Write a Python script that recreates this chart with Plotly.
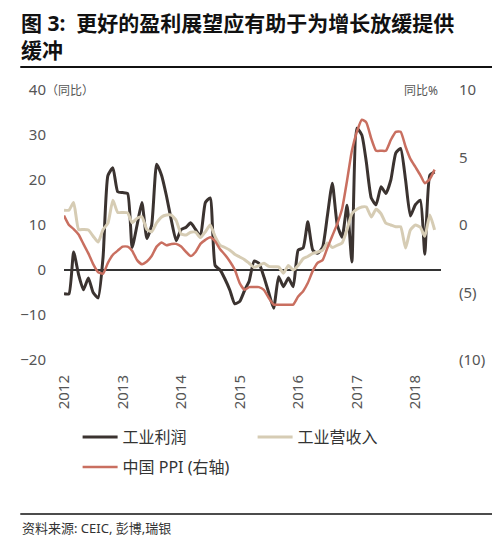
import plotly.graph_objects as go
import pandas as pd

# monthly, Jan 2012 - May 2018
months = pd.date_range("2012-01-01", periods=77, freq="MS")

profit = [-5.3, -5.3, 4, -1, -4.4, -1.8, -5, -6.2, 3, 21, 22.7, 17.4,
          17.2, 17, 5, 10, 15, 7, 10, 23.5, 21, 16.5, 11, 6.5,
          9, 9.5, 10.5, 9, 7.5, 15, 16, 1, 0, -2, -4.5, -7.5,
          -7, -4.5, -2.5, 2, 1.5, -1.5, -5, -8.5, -1.5, -3.7, -1.8, -3.7,
          4.4, 4.9, 10.7, 4.4, 3.7, 5, 12, 19.3, 10, 7.3, 14.4, 1.8,
          31.5, 30, 24, 16, 14.5, 18.5, 17, 20, 26, 27, 20, 12,
          14.5, 15.5, 3.5, 21, 21.8]

revenue = [13.3, 13.3, 15, 9, 9, 8.9, 7.5, 6.2, 9, 10.4, 15.5, 12.8,
           12.8, 12.7, 10.5, 11.5, 11.8, 9, 8.5, 10.5, 11.8, 12.2, 12.2, 11,
           8, 7.8, 8.4, 8.4, 7.2, 8.5, 10, 7.4, 5.5, 5, 4.4, 3.5,
           2.9, 2.3, 1.5, 0.6, 1, 1.5, 0.8, 0.7, 0.7, -0.7, 1, 0,
           1, 2.5, 3, 3.7, 4, 4.4, 6, 5, 5.5, 6, 9, 12.5,
           13.5, 14, 14, 11.8, 13.5, 12.5, 10.4, 10, 9.6, 9.6, 4.9, 8.9,
           10, 9.5, 7.5, 12.2, 8.9]

ppi = [0.7, 0.0, -0.3, -0.7, -1.4, -2.1, -2.9, -3.5, -3.6, -2.8, -2.2, -1.9,
       -1.6, -1.6, -1.9, -2.6, -2.9, -2.7, -2.3, -1.6, -1.3, -1.5, -1.4, -1.4,
       -1.6, -2.0, -2.3, -2.0, -1.4, -1.1, -0.9, -1.2, -1.8, -2.2, -2.7, -3.3,
       -4.3, -4.8, -4.6, -4.6, -4.6, -4.8, -5.4, -5.9, -5.9, -5.9, -5.9, -5.9,
       -5.3, -4.9, -4.3, -3.4, -2.8, -2.6, -1.7, -0.8, 0.1, 1.2, 3.3, 5.5,
       6.9, 7.8, 7.6, 6.4, 5.5, 5.5, 5.5, 6.3, 6.9, 6.9, 5.8, 4.9,
       4.3, 3.7, 3.1, 3.4, 4.1]

left_ticks = [-20, -10, 0, 10, 20, 30, 40]
right_ticks = [-10, -5, 0, 5, 10]
right_text = ["(10)", "(5)", "0", "5", "10"]
year_ticks = pd.date_range("2012-01-01", "2018-01-01", freq="YS")

FONT = "Noto Sans, Noto Sans CJK SC"
OFF = 8  # page body margin
W, H = 500 - OFF, 538 - OFF
L, R, T, B = 53 - OFF, 441 - OFF, 90 - OFF, 360 - OFF  # plot area in figure px


def px(x):
    # page x pixel -> paper
    return (x - OFF - L) / (R - L)


def py(y):
    return (B - (y - OFF)) / (B - T)


fig = go.Figure()
fig.add_scatter(x=months, y=profit, name="工业利润", mode="lines", legend="legend",
                line=dict(color="#3b3330", width=3, shape="spline", smoothing=0.5))
fig.add_scatter(x=months, y=revenue, name="工业营收入", mode="lines", legend="legend",
                line=dict(color="#d6ccb4", width=3, shape="spline", smoothing=0.5))
fig.add_scatter(x=months, y=ppi, name="中国 PPI (右轴)", mode="lines", yaxis="y2", legend="legend2",
                line=dict(color="#c96f60", width=2.5, shape="spline", smoothing=0.5))

leg = dict(orientation="h", xanchor="left", yanchor="middle",
           itemwidth=35, font=dict(size=16, color="#333"), bgcolor="rgba(0,0,0,0)")

fig.update_layout(
    width=W, height=H,
    margin=dict(l=L, r=W - R, t=T, b=H - B, pad=0),
    paper_bgcolor="white", plot_bgcolor="white",
    font=dict(family=FONT, size=15, color="#555"),
    xaxis=dict(type="date", range=["2012-01-01", "2018-06-10"],
               tickvals=year_ticks, tickformat="%Y", tickangle=-90,
               ticks="outside", ticklen=8, tickcolor="rgba(0,0,0,0)",
               showgrid=False, showline=False, zeroline=False,
               tickfont=dict(size=15, color="#555")),
    yaxis=dict(range=[-20, 40], tickvals=left_ticks, showgrid=False,
               zeroline=True, zerolinecolor="#333", zerolinewidth=1.5,
               ticks="outside", ticklen=14, tickcolor="rgba(0,0,0,0)",
               showline=False, tickfont=dict(size=15, color="#555")),
    yaxis2=dict(range=[-10, 10], tickvals=right_ticks, ticktext=right_text,
                overlaying="y", side="right", showgrid=False, zeroline=False,
                ticks="outside", ticklen=14, tickcolor="rgba(0,0,0,0)",
                showline=False, tickfont=dict(size=15, color="#555")),
    legend=dict(leg, x=px(67), y=py(437), entrywidth=125, entrywidthmode="pixels"),
    legend2=dict(leg, x=px(67), y=py(467)),
    showlegend=True,
)

fig.add_annotation(x=px(OFF), y=py(OFF), xref="paper", yref="paper", xanchor="left", yanchor="top",
                   text="<b>图 3:  更好的盈利展望应有助于为增长放缓提供</b>", showarrow=False,
                   borderpad=0, font=dict(size=21, color="#111", family=FONT))
fig.add_annotation(x=px(OFF), y=py(35), xref="paper", yref="paper", xanchor="left", yanchor="top",
                   text="<b>缓冲</b>", showarrow=False,
                   borderpad=0, font=dict(size=21, color="#111", family=FONT))
fig.add_annotation(x=px(32), y=py(90), xref="paper", yref="paper", xanchor="left", yanchor="middle",
                   text="（同比）", showarrow=False, font=dict(size=12, color="#555"))
fig.add_annotation(x=px(440), y=py(90), xref="paper", yref="paper", xanchor="right", yanchor="middle",
                   text="同比%", showarrow=False, font=dict(size=12, color="#555"))
fig.add_annotation(x=px(OFF), y=py(528), xref="paper", yref="paper", xanchor="left", yanchor="middle",
                   text="资料来源: CEIC, 彭博,瑞银", showarrow=False, font=dict(size=13, color="#333"))

fig.add_shape(type="line", xref="paper", yref="paper", x0=px(OFF), x1=px(496), y0=py(67), y1=py(67),
              line=dict(color="#111", width=2))
fig.add_shape(type="line", xref="paper", yref="paper", x0=px(OFF), x1=px(496), y0=py(514), y1=py(514),
              line=dict(color="#111", width=1.5))

fig.write_html("out.html")
